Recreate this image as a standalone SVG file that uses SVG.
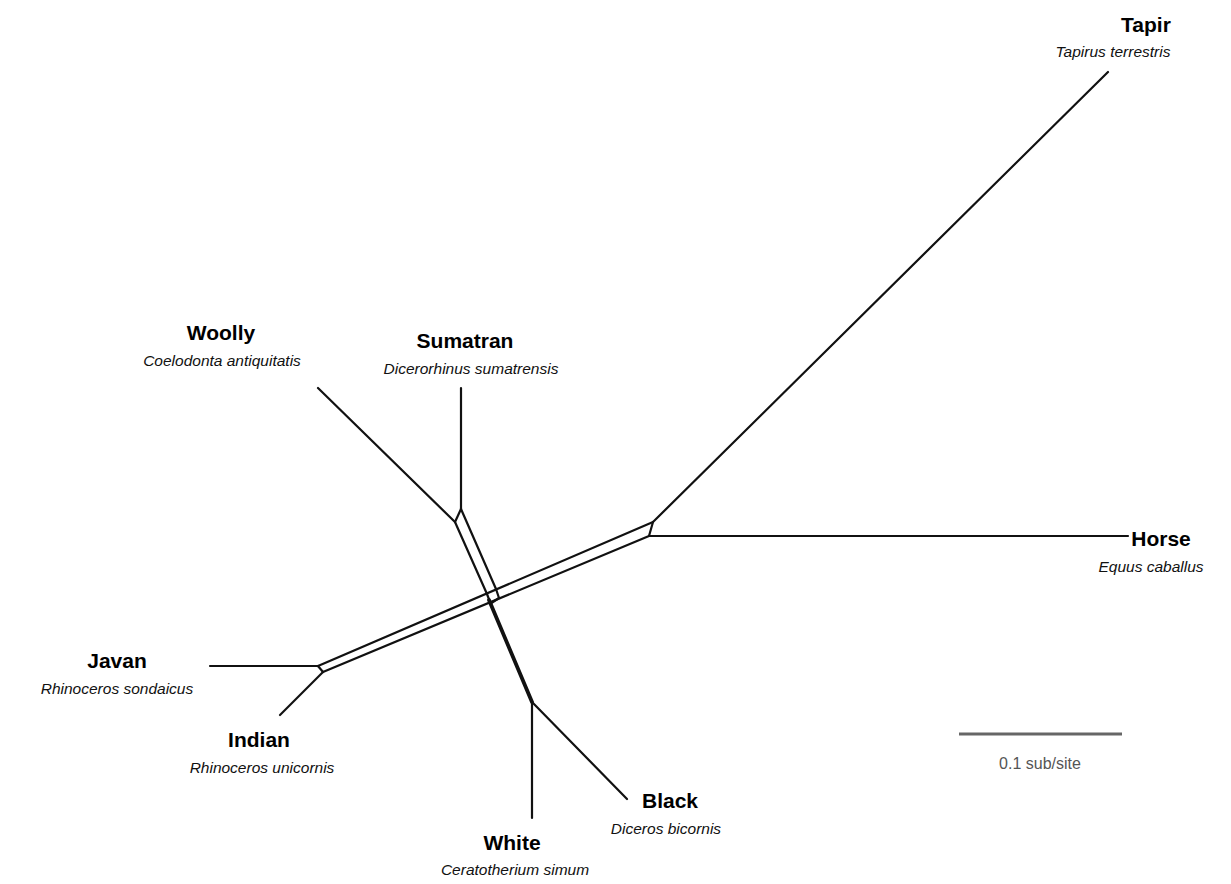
<svg xmlns="http://www.w3.org/2000/svg" width="1231" height="884" viewBox="0 0 1231 884">
<style>
.e{stroke:#111;stroke-width:2.2;fill:none;stroke-linecap:round;stroke-linejoin:round}
.thick{stroke:#111;stroke-width:3.8;fill:none;stroke-linecap:round}
.n{font-family:"Liberation Sans",Arial,sans-serif;font-weight:bold;font-size:21px;fill:#000;text-anchor:middle}
.s{font-family:"Liberation Sans",Arial,sans-serif;font-style:italic;font-size:15.5px;fill:#111;text-anchor:middle}
.sc{font-family:"Liberation Sans",Arial,sans-serif;font-size:16px;fill:#555;text-anchor:middle}
</style>
<rect width="1231" height="884" fill="#fff"/>
<g id="connectors">
<line class="e" x1="318" y1="666" x2="653" y2="522"/>
<line class="e" x1="323" y1="672" x2="649" y2="536"/>
<line class="e" x1="318" y1="666" x2="323" y2="672"/>
<line class="e" x1="653" y1="522" x2="649" y2="536"/>
<line class="e" x1="455" y1="522" x2="487" y2="594"/>
<line class="e" x1="461" y1="509" x2="496" y2="589"/>
<line class="e" x1="455" y1="522" x2="461" y2="509"/>
<line class="e" x1="487" y1="594" x2="490" y2="602"/>
<line class="e" x1="496" y1="589" x2="499" y2="598"/>
<line class="thick" x1="489" y1="600" x2="532" y2="702"/>
<line class="e" x1="499" y1="598" x2="490" y2="604"/>
<line class="e" x1="653" y1="522" x2="1108" y2="72"/>
<line class="e" x1="649" y1="536" x2="1128" y2="536"/>
<line class="e" x1="210" y1="666" x2="318" y2="666"/>
<line class="e" x1="323" y1="672" x2="280" y2="715"/>
<line class="e" x1="455" y1="522" x2="318" y2="388"/>
<line class="e" x1="461" y1="509" x2="461" y2="388"/>
<line class="e" x1="532" y1="702" x2="532" y2="818"/>
<line class="e" x1="532" y1="702" x2="627" y2="799"/>
</g>
<g id="tapir"><text class="n" x="1146" y="32">Tapir</text><text class="s" x="1113" y="57">Tapirus terrestris</text></g>
<g id="horse"><text class="n" x="1161" y="546">Horse</text><text class="s" x="1151" y="572">Equus caballus</text></g>
<g id="sumatran"><text class="n" x="465" y="348">Sumatran</text><text class="s" x="471" y="374">Dicerorhinus sumatrensis</text></g>
<g id="woolly"><text class="n" x="221" y="340">Woolly</text><text class="s" x="222" y="366">Coelodonta antiquitatis</text></g>
<g id="javan"><text class="n" x="117" y="668">Javan</text><text class="s" x="117" y="694">Rhinoceros sondaicus</text></g>
<g id="indian"><text class="n" x="259" y="747">Indian</text><text class="s" x="262" y="773">Rhinoceros unicornis</text></g>
<g id="black"><text class="n" x="670" y="808">Black</text><text class="s" x="666" y="834">Diceros bicornis</text></g>
<g id="white"><text class="n" x="512" y="850">White</text><text class="s" x="515" y="875">Ceratotherium simum</text></g>
<g id="scale"><line x1="959" y1="734" x2="1122" y2="734" stroke="#666" stroke-width="3"/><text class="sc" x="1040" y="769">0.1 sub/site</text></g>
</svg>
